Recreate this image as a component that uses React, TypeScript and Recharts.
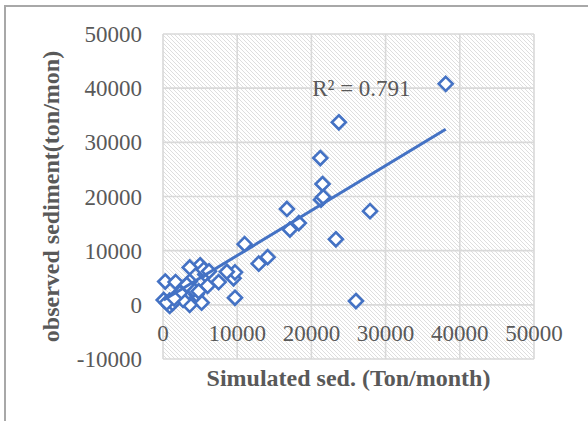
import { CartesianGrid, Label, ReferenceDot, Scatter, ScatterChart, XAxis, YAxis } from "recharts";

const simulated = [
  38100, 23700, 21200, 21500, 21300, 21600, 27900, 16700, 17100, 18300, 23300, 26000, 11000, 12900, 14100,
  9700, 9500, 9700, 8600, 7500, 5000, 3600, 5700, 6000, 3600, 300, 1700, 5200, 3600, 100, 900, 1800, 2700,
  900, 4500, 4100, 2700, 2300, 1300, 500, 5500, 3200, 4800, 1500, 6200,
];
const observed = [
  40800, 33700, 27100, 22300, 19400, 19900, 17300, 17700, 13900, 15100, 12100, 700, 11200, 7600, 8800,
  1300, 4900, 6000, 6100, 4200, 7300, 6900, 5600, 3500, 4300, 4300, 4200, 400, 0, 900, 800, 1500, 900,
  -200, 1900, 2800, 3100, 2200, 300, 400, 6500, 3700, 2500, 1200, 6200,
];
const trendX = [100, 38100];
const trendY = [900, 32400];
const xTicks = [0, 10000, 20000, 30000, 40000, 50000];
const yTicks = [-10000, 0, 10000, 20000, 30000, 40000, 50000];
const r2Text = "R² = 0.791";

const points = simulated.map((x, i) => ({ x, y: observed[i] }));
const trend = trendX.map((x, i) => ({ x, y: trendY[i] }));

const BLUE = "#4472C4";
const TEXT = "#595959";
const FONT = "'Liberation Serif', 'Times New Roman', serif";

const Diamond = (props: any) => {
  const { cx, cy } = props;
  if (cx == null || cy == null) return <g />;
  const r = 7;
  return (
    <path
      d={`M${cx},${cy - r}L${cx + r},${cy}L${cx},${cy + r}L${cx - r},${cy}Z`}
      fill="#fff"
      stroke={BLUE}
      strokeWidth={2.6}
    />
  );
};

const XTick = (props: any) => {
  const { x, y, payload } = props;
  // labels sit just under the zero line, inside the plot
  return (
    <text x={x} y={y - 18} textAnchor="middle" fill={TEXT} style={{ fontSize: 23, fontFamily: FONT }}>
      {payload.value}
    </text>
  );
};

const YTick = (props: any) => {
  const { x, y, payload } = props;
  return (
    <text x={x} y={y + 8} textAnchor="end" fill={TEXT} style={{ fontSize: 23, fontFamily: FONT }}>
      {payload.value}
    </text>
  );
};

export default function App() {
  return (
    <div style={{ position: "absolute", left: 0, top: 0, width: 588, height: 421, background: "#fff" }}>
      <svg width={0} height={0} style={{ position: "absolute" }}>
        <defs>
          <pattern id="hatch" patternUnits="userSpaceOnUse" width={4} height={4}>
            <rect width={4} height={4} fill="#fff" />
            <path d="M-1,-1L5,5M-1,3L1,5M3,-1L5,1" stroke="#dedede" strokeWidth={1} />
          </pattern>
        </defs>
      </svg>
      <div
        style={{
          position: "absolute",
          left: 4,
          top: 5,
          width: 584,
          height: 416,
          borderTop: "2px solid #a8a8a8",
          borderLeft: "2px solid #a8a8a8",
          boxSizing: "border-box",
        }}
      />
      <div style={{ position: "absolute", left: 0, top: 0 }}>
        <ScatterChart width={588} height={421} margin={{ top: 34, right: 54, bottom: 0, left: 0 }}>
          <CartesianGrid stroke="#d9d9d9" strokeWidth={1.6} fill="url(#hatch)" fillOpacity={1} />
          <XAxis
            type="number"
            dataKey="x"
            domain={[0, 50000]}
            ticks={xTicks}
            height={62}
            axisLine={false}
            tickLine={false}
            tickSize={0}
            tickMargin={0}
            tick={<XTick />}
            interval={0}
          >
            <Label
              content={(p: any) => {
                const vb = p.viewBox;
                return (
                  <text
                    x={vb.x + vb.width / 2}
                    y={vb.y + 27}
                    textAnchor="middle"
                    fill={TEXT}
                    style={{ fontSize: 24, fontWeight: "bold", fontFamily: FONT }}
                  >
                    Simulated sed. (Ton/month)
                  </text>
                );
              }}
            />
          </XAxis>
          <YAxis
            type="number"
            dataKey="y"
            domain={[-10000, 50000]}
            ticks={yTicks}
            width={163}
            axisLine={false}
            tickLine={false}
            tickSize={6}
            tickMargin={15}
            interval={0}
            tick={<YTick />}
          >
            <Label
              content={(p: any) => {
                const vb = p.viewBox;
                const cx = vb.x + 59;
                const cy = vb.y + vb.height / 2;
                return (
                  <text
                    x={cx}
                    y={cy}
                    transform={`rotate(-90 ${cx} ${cy})`}
                    textAnchor="middle"
                    fill={TEXT}
                    style={{ fontSize: 24, fontWeight: "bold", fontFamily: FONT }}
                  >
                    observed sediment(ton/mon)
                  </text>
                );
              }}
            />
          </YAxis>
          <Scatter data={points} shape={<Diamond />} isAnimationActive={false} />
          <Scatter
            data={trend}
            line={{ stroke: BLUE, strokeWidth: 3 }}
            shape={() => <g />}
            isAnimationActive={false}
          />
          <ReferenceDot
            x={20100}
            y={38600}
            r={0}
            fill="none"
            stroke="none"
            label={(p: any) => {
              const vb = p.viewBox;
              return (
                <text x={vb.x} y={vb.y} textAnchor="start" fill={TEXT} style={{ fontSize: 23, fontFamily: FONT }}>
                  {r2Text}
                </text>
              );
            }}
          />
        </ScatterChart>
      </div>
    </div>
  );
}
